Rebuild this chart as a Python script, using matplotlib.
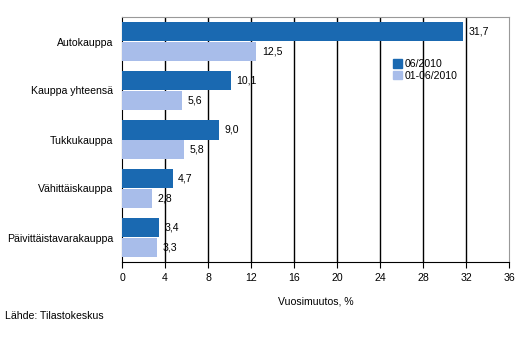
import matplotlib
matplotlib.use("Agg")
import matplotlib.pyplot as plt
from matplotlib.patches import Patch

plt.rcParams['font.family'] = ['Liberation Sans', 'DejaVu Sans']

categories = ["Autokauppa", "Kauppa yhteensä", "Tukkukauppa", "Vähittäiskauppa", "Päivittäistavarakauppa"]
series_jun = [31.7, 10.1, 9.0, 4.7, 3.4]
series_jan_jun = [12.5, 5.6, 5.8, 2.8, 3.3]
series_names = ["06/2010", "01-06/2010"]
xticks = [0, 4, 8, 12, 16, 20, 24, 28, 32, 36]

dark = "#1a69b1"
light = "#a8bdea"
fs = 7.6

fig = plt.figure(figsize=(5.29, 3.56), dpi=100)
ax = fig.add_axes([122/529, 1-262/356, (509-122)/529, (262-17)/356])

y = list(range(len(categories)))
h = 0.4
ax.barh([v - h/2 for v in y], series_jun, height=h, color=dark, zorder=3)
ax.barh([v + h/2 for v in y], series_jan_jun, height=h, color=light, zorder=3)

def fmt(v):
    return f"{v:.1f}".replace(".", ",")

for yi, v in zip(y, series_jun):
    ax.annotate(fmt(v), (v, yi - h/2), xytext=(4, 0), textcoords="offset points",
                va="center", ha="left", fontsize=fs, zorder=4)
for yi, v in zip(y, series_jan_jun):
    ax.annotate(fmt(v), (v, yi + h/2), xytext=(4, 0), textcoords="offset points",
                va="center", ha="left", fontsize=fs, zorder=4)

ax.set_xlim(0, 36)
ax.set_ylim(len(categories) - 0.5, -0.5)
ax.set_xticks(xticks)
ax.set_xticklabels([str(t) for t in xticks], fontsize=fs)
ax.set_yticks(y)
ax.set_yticklabels(categories, fontsize=fs)
ax.tick_params(axis='y', length=0, pad=6.5)
ax.tick_params(axis='x', length=4, direction='out', color='black', pad=4)

for t in xticks[1:-1]:
    ax.axvline(t, color='black', lw=1, zorder=1)

ax.spines['left'].set_color('black')
ax.spines['bottom'].set_color('black')
ax.spines['top'].set_color('#999999')
ax.spines['right'].set_color('#999999')

ax.set_xlabel("Vuosimuutos, %", fontsize=fs, labelpad=10)

handles = [Patch(color=dark), Patch(color=light)]
ax.legend(handles, series_names, loc='upper left', bbox_to_anchor=(0.69, 0.845),
          frameon=False, fontsize=fs, handlelength=0.8, handleheight=0.8,
          handletextpad=0.3, labelspacing=0.15, borderaxespad=0)

fig.text(5/529, 1-316/356, "Lähde: Tilastokeskus", fontsize=fs, va='center', ha='left')

fig.savefig("out.png", dpi=100)
